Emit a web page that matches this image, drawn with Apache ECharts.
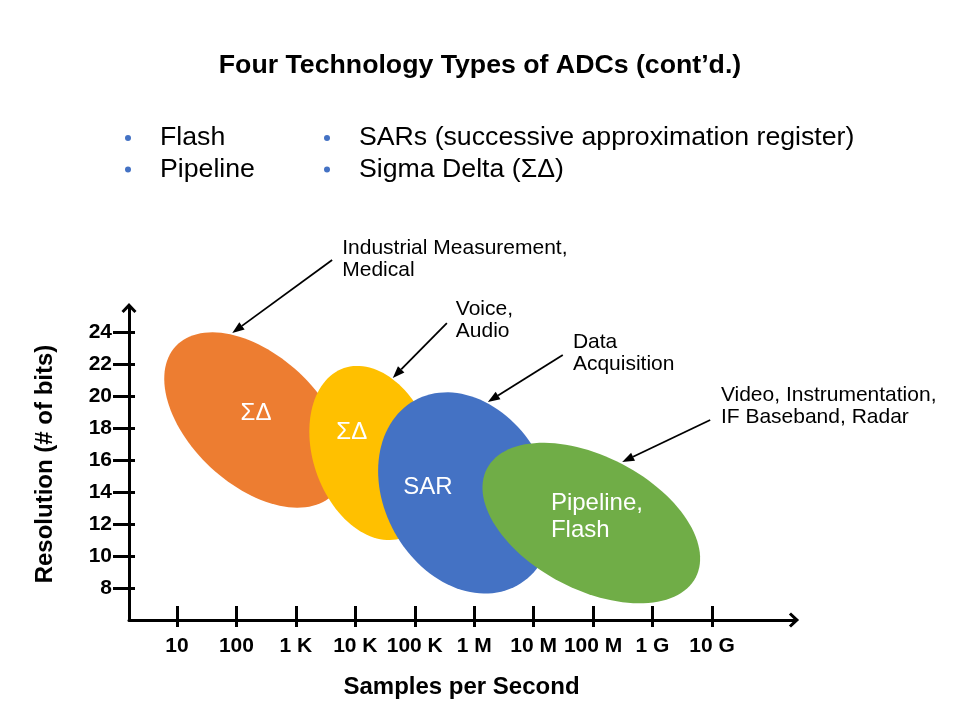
<!DOCTYPE html>
<html>
<head>
<meta charset="utf-8">
<title>Four Technology Types of ADCs</title>
<script src="https://cdn.jsdelivr.net/npm/echarts@6/dist/echarts.min.js"></script>
<style>
  html, body { margin: 0; padding: 0; background: #fff; }
  #chart { width: 960px; height: 720px; }
</style>
</head>
<body>
<div id="chart"></div>
<script>
// x is log10(samples per second), y is resolution in bits
var rateTicks = [1, 2, 3, 4, 5, 6, 7, 8, 9, 10];
var rateLabels = ['10', '100', '1 K', '10 K', '100 K', '1 M', '10 M', '100 M', '1 G', '10 G'];
var bitTicks = [8, 10, 12, 14, 16, 18, 20, 22, 24];

// ADC families: centre, semi axes (in decades) and tilt (deg)
var adcNames = ['ΣΔ', 'ΣΔ', 'SAR', 'Pipeline,\nFlash'];
var adcRate = [2.31, 4.3, 5.86, 7.97];
var adcBits = [18.5, 16.44, 13.94, 12.06];
var adcMajor = [1.82, 1.51, 1.78, 1.98];
var adcMinor = [1.09, 1.01, 1.37, 1.12];
var adcTilt = [43, 71, 61, 27.5];
var adcLabelRate = [2.33, 3.94, 5.22, 7.29];
var adcLabelBits = [18.94, 17.75, 14.31, 12.44];

// applications, with arrows pointing to the family
var appNames = ['Industrial Measurement,\nMedical', 'Voice,\nAudio', 'Data\nAcquisition', 'Video, Instrumentation,\nIF Baseband, Radar'];
var appRate = [3.78, 5.69, 7.66, 10.15];
var appBits = [28.56, 24.75, 22.66, 19.34];
var arrowFromRate = [3.61, 5.54, 7.49, 9.97];
var arrowFromBits = [28.5, 24.56, 22.56, 18.5];
var arrowToRate = [1.93, 4.63, 6.23, 8.49];
var arrowToBits = [23.94, 21.13, 19.63, 15.88];

var titleText = 'Four Technology Types of ADCs (cont\u2019d.)';
var bulletItems = ['Flash', 'Pipeline', 'SARs (successive approximation register)', 'Sigma Delta (ΣΔ)'];

var FONT = '"Liberation Sans", Arial, sans-serif';
var adcColors = ['#ED7D31', '#FFC000', '#4472C4', '#70AD47'];
var chevron = 'path://M50,0 L100,54 L86,68 L50,30 L14,68 L0,54 Z';

var chart = echarts.init(document.getElementById('chart'));

function renderAdc(params, api) {
	var i = params.dataIndex;
	var c = api.coord([api.value(0), api.value(1)]);
	var unit = api.size([1, 0])[0];
	var a = api.value(2) * unit;
	var b = api.value(3) * unit;
	var t = api.value(4) * Math.PI / 180;
	var pts = [];
	for (var k = 0; k < 120; k++) {
		var s = k / 120 * Math.PI * 2;
		var ex = a * Math.cos(s), ey = b * Math.sin(s);
		pts.push([c[0] + ex * Math.cos(t) - ey * Math.sin(t), c[1] + ex * Math.sin(t) + ey * Math.cos(t)]);
	}
	var lp = api.coord([adcLabelRate[i], adcLabelBits[i]]);
	var multi = adcNames[i].indexOf('\n') >= 0;
	return {
		type: 'group',
		children: [{
			type: 'polygon',
			shape: { points: pts },
			style: { fill: adcColors[i] }
		}, {
			type: 'text',
			x: lp[0],
			y: lp[1],
			style: {
				text: adcNames[i], fill: '#fff', font: '24px ' + FONT,
				align: multi ? 'left' : 'center', verticalAlign: 'middle',
				textAlign: multi ? 'left' : 'center', textVerticalAlign: 'middle',
				lineHeight: 27
			}
		}]
	};
}

function renderArrow(params, api) {
	var i = params.dataIndex;
	var p0 = api.coord([api.value(0), api.value(1)]);
	var p1 = api.coord([api.value(2), api.value(3)]);
	var dx = p1[0] - p0[0], dy = p1[1] - p0[1];
	var len = Math.sqrt(dx * dx + dy * dy);
	var ux = dx / len, uy = dy / len;
	var head = 12, half = 4.5;
	var bx = p1[0] - ux * head, by = p1[1] - uy * head;
	var tp = api.coord([appRate[i], appBits[i]]);
	return {
		type: 'group',
		children: [{
			type: 'line',
			shape: { x1: p0[0], y1: p0[1], x2: bx, y2: by },
			style: { stroke: '#000', lineWidth: 1.8 }
		}, {
			type: 'polygon',
			shape: { points: [p1, [bx - uy * half, by + ux * half], [bx + uy * half, by - ux * half]] },
			style: { fill: '#000' }
		}, {
			type: 'text',
			x: tp[0],
			y: tp[1],
			style: {
				text: appNames[i], fill: '#000', font: '21px ' + FONT,
				align: 'left', verticalAlign: 'middle',
				textAlign: 'left', textVerticalAlign: 'middle',
				lineHeight: 22
			}
		}]
	};
}

var axisColor = { color: '#000', width: 3 };
var tickFont = { color: '#000', fontWeight: 'bold', fontSize: 21, fontFamily: FONT };

var graphics = [{
	type: 'text', x: 480, y: 66,
	style: { text: titleText, font: 'bold 26.7px ' + FONT, fill: '#000', align: 'center', verticalAlign: 'middle', textAlign: 'center', textVerticalAlign: 'middle' }
}];
bulletItems.forEach(function (txt, i) {
	var col = Math.floor(i / 2), row = i % 2;
	var y = 138 + row * 31.5;
	graphics.push({ type: 'circle', shape: { cx: 128 + col * 199, cy: y, r: 3 }, style: { fill: '#4472C4' } });
	graphics.push({
		type: 'text', x: 160 + col * 199, y: y,
		style: { text: txt, font: '26.7px ' + FONT, fill: '#000', align: 'left', verticalAlign: 'middle', textAlign: 'left', textVerticalAlign: 'middle' }
	});
});

chart.setOption({
	animation: false,
	backgroundColor: '#fff',
	grid: { left: 129, right: 166, top: 308, bottom: 100 },
	xAxis: [{
		type: 'value', min: 0.1925, max: 11.38, position: 'bottom',
		name: 'Samples per Second', nameLocation: 'middle', nameGap: 55,
		nameTextStyle: { color: '#000', fontWeight: 'bold', fontSize: 24, fontFamily: FONT },
		axisLine: { onZero: false, lineStyle: axisColor, symbol: ['none', chevron], symbolSize: [15, 13] },
		axisTick: { customValues: rateTicks, length: 7, lineStyle: axisColor },
		axisLabel: Object.assign({ customValues: rateTicks, margin: 16, formatter: function (v) { return rateLabels[Math.round(v) - 1]; } }, tickFont),
		splitLine: { show: false }
	}, {
		type: 'value', min: 0.1925, max: 11.38, position: 'bottom',
		axisLine: { show: false, onZero: false },
		axisTick: { customValues: rateTicks, inside: true, length: 14, lineStyle: axisColor },
		axisLabel: { show: false },
		splitLine: { show: false }
	}],
	yAxis: [{
		type: 'value', min: 6, max: 25.5, position: 'left',
		name: 'Resolution (# of bits)', nameLocation: 'middle', nameGap: 72,
		nameTextStyle: { color: '#000', fontWeight: 'bold', fontSize: 24, fontFamily: FONT },
		axisLine: { show: true, onZero: false, lineStyle: axisColor, symbol: ['none', chevron], symbolSize: [15, 13] },
		axisTick: { show: true, customValues: bitTicks, length: 16, lineStyle: axisColor },
		axisLabel: Object.assign({ customValues: bitTicks, margin: 17 }, tickFont),
		splitLine: { show: false }
	}, {
		type: 'value', min: 6, max: 25.5, position: 'left',
		axisLine: { show: false, onZero: false },
		axisTick: { show: true, customValues: bitTicks, inside: true, length: 6, lineStyle: axisColor },
		axisLabel: { show: false },
		splitLine: { show: false }
	}],
	graphic: graphics,
	series: [{
		type: 'custom',
		renderItem: renderAdc,
		encode: { x: 0, y: 1 },
		data: adcRate.map(function (r, i) { return [r, adcBits[i], adcMajor[i], adcMinor[i], adcTilt[i]]; }),
		z: 2
	}, {
		type: 'custom',
		renderItem: renderArrow,
		encode: { x: [0, 2], y: [1, 3] },
		data: arrowFromRate.map(function (r, i) { return [r, arrowFromBits[i], arrowToRate[i], arrowToBits[i]]; }),
		z: 3
	}]
});
</script>
</body>
</html>
